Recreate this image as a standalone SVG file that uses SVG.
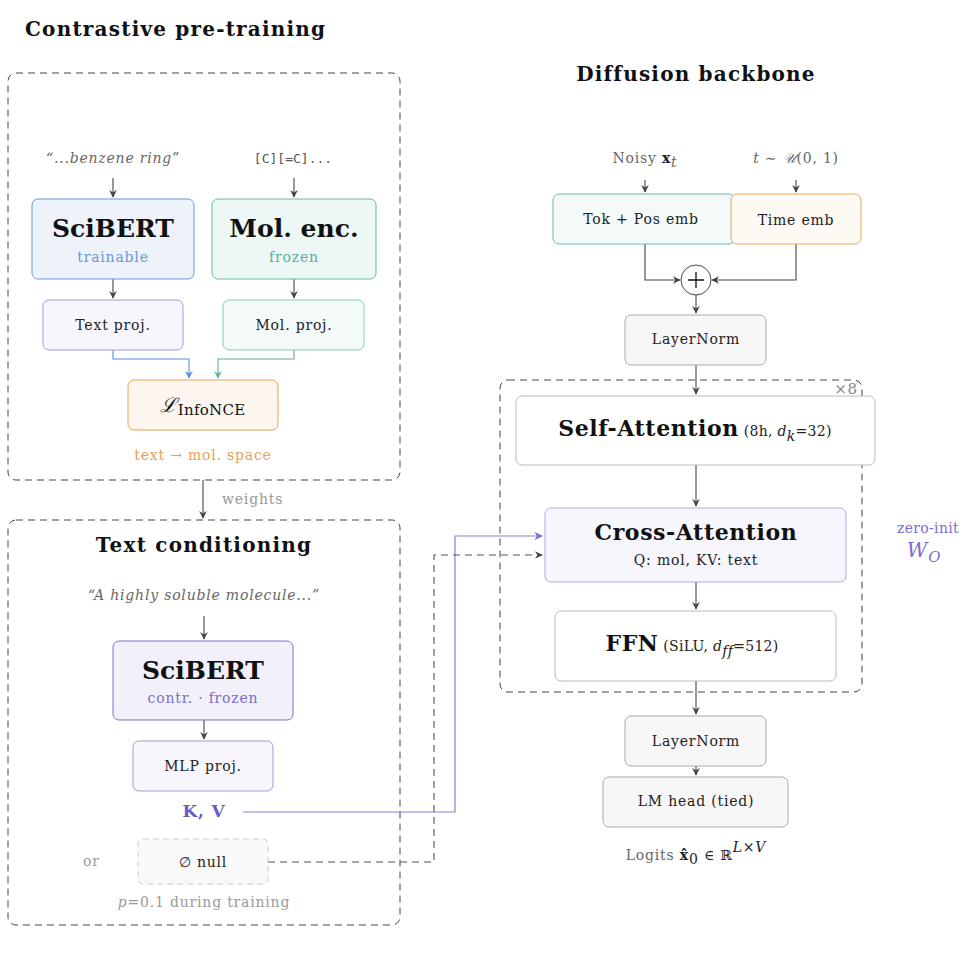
<svg xmlns="http://www.w3.org/2000/svg" width="980" height="958" viewBox="0 0 980 958">
<defs>
<marker id="ah" viewBox="0 0 10 10" refX="9" refY="5" markerWidth="7" markerHeight="7" orient="auto-start-reverse"><path d="M0,0 L10,5 L0,10 L3,5 z" fill="#444"/></marker>
<marker id="ahb" viewBox="0 0 10 10" refX="9" refY="5" markerWidth="7" markerHeight="7" orient="auto"><path d="M0,0 L10,5 L0,10 L3,5 z" fill="#5a8fdc"/></marker>
<marker id="aht" viewBox="0 0 10 10" refX="9" refY="5" markerWidth="7" markerHeight="7" orient="auto"><path d="M0,0 L10,5 L0,10 L3,5 z" fill="#5bb0a0"/></marker>
<marker id="ahp" viewBox="0 0 10 10" refX="9" refY="5" markerWidth="7" markerHeight="7" orient="auto"><path d="M0,0 L10,5 L0,10 L3,5 z" fill="#7b6ccc"/></marker>
</defs>
<style>
text{font-family:"DejaVu Serif","Liberation Serif",serif;fill:#222;letter-spacing:0.8px}
.t{font-size:20px;font-weight:bold;fill:#111;letter-spacing:1.2px}
.g{fill:#666;font-size:14px}
.lg{fill:#999;font-size:14px}
.b{font-size:14px;text-anchor:middle}
.big{font-size:25px;font-weight:bold;text-anchor:middle;fill:#111;letter-spacing:0}
.grp{fill:none;stroke:#444;stroke-dasharray:7 5;stroke-width:1}
.c{fill:none;stroke:#444;stroke-width:1.1}
</style>
<rect width="980" height="958" fill="#fff"/>
<text class="t" x="25" y="36">Contrastive pre-training</text>
<text class="t" x="696" y="81" text-anchor="middle">Diffusion backbone</text>
<rect class="grp" x="8" y="73" width="392" height="407" rx="8"/>
<rect class="grp" x="8" y="520" width="392" height="405" rx="8"/>
<rect class="grp" x="500" y="380" width="362" height="312" rx="8"/>
<text x="846" y="394" font-size="15" text-anchor="middle" style="fill:#888">×8</text>

<g id="labels">
<text class="g" x="113" y="163" text-anchor="middle" font-style="italic">“...benzene ring”</text>
<text x="293" y="163" text-anchor="middle" style="font-family:'DejaVu Sans Mono',monospace;font-size:13px;fill:#555;letter-spacing:0">[C][=C]...</text>
<text class="g" x="645" y="163" text-anchor="middle">Noisy <tspan font-weight="bold" fill="#222">x</tspan><tspan font-style="italic" dy="4">t</tspan></text>
<text class="g" x="796" y="163" text-anchor="middle"><tspan font-style="italic">t</tspan> ∼ <tspan font-style="italic">𝒰</tspan>(0, 1)</text>
<text x="203" y="460" text-anchor="middle" style="fill:#e8a25a;font-size:14px">text → mol. space</text>
<text class="lg" x="222" y="504">weights</text>
<text class="t" x="204" y="552" text-anchor="middle">Text conditioning</text>
<text class="g" x="204" y="600" text-anchor="middle" font-style="italic">“A highly soluble molecule...”</text>
<text x="204" y="817" text-anchor="middle" style="fill:#6a5cc4;font-size:17px;font-weight:bold">K, V</text>
<text class="lg" x="83" y="866">or</text>
<text class="lg" x="204" y="907" text-anchor="middle"><tspan font-style="italic">p</tspan>=0.1 during training</text>
<text x="928" y="533" text-anchor="middle" style="fill:#7b6ccc;font-size:14px;letter-spacing:0.3px">zero-init</text>
<text x="924" y="557" text-anchor="middle" style="fill:#7b6ccc;font-size:20px;font-style:italic">W<tspan font-size="15" dy="5">O</tspan></text>
<text class="g" x="696" y="860" text-anchor="middle">Logits <tspan font-weight="bold" fill="#222">x̂</tspan><tspan dy="4" fill="#222">0</tspan><tspan dy="-4" fill="#222"> ∈ ℝ</tspan><tspan dy="-8" font-style="italic" fill="#222">L×V</tspan></text>
</g>

<g id="connectors">
<path class="c" d="M113,178V197" marker-end="url(#ah)"/>
<path class="c" d="M294,178V197" marker-end="url(#ah)"/>
<path class="c" d="M113,279V298" marker-end="url(#ah)"/>
<path class="c" d="M294,279V298" marker-end="url(#ah)"/>
<path d="M113,350V359H189V378" fill="none" stroke="#5a8fdc" stroke-width="1.1" marker-end="url(#ahb)"/>
<path d="M294,350V359H218V378" fill="none" stroke="#5bb0a0" stroke-width="1.1" marker-end="url(#aht)"/>
<path class="c" d="M203,480V518" marker-end="url(#ah)"/>
<path class="c" d="M204,616V639" marker-end="url(#ah)"/>
<path class="c" d="M204,720V739" marker-end="url(#ah)"/>
<path d="M243,812H455V536H542" fill="none" stroke="#8a7fd4" stroke-width="1.2" marker-end="url(#ahp)"/>
<path d="M268,862H434V555H542" fill="none" stroke="#555" stroke-width="1.1" stroke-dasharray="7 5" marker-end="url(#ah)"/>
<path class="c" d="M645,180V192" marker-end="url(#ah)"/>
<path class="c" d="M796,180V192" marker-end="url(#ah)"/>
<path class="c" d="M645,244V280H680" marker-end="url(#ah)"/>
<path class="c" d="M796,244V280H712" marker-end="url(#ah)"/>
<path class="c" d="M696,295V313" marker-end="url(#ah)"/>
<path class="c" d="M696,365V394" marker-end="url(#ah)"/>
<path class="c" d="M696,465V506" marker-end="url(#ah)"/>
<path class="c" d="M696,582V609" marker-end="url(#ah)"/>
<path class="c" d="M696,681V714" marker-end="url(#ah)"/>
<path class="c" d="M696,766V775" marker-end="url(#ah)"/>
<path class="c" d="M696,816V826" marker-end="url(#ah)"/>
</g>

<g id="scibert1"><rect x="32" y="199" width="162" height="80" rx="6" fill="#eef3fb" stroke="#6a97dc"/>
<text class="big" x="113" y="237">SciBERT</text><text x="113" y="262" text-anchor="middle" style="fill:#6a97dc;font-size:14px">trainable</text></g>
<g id="molenc"><rect x="212" y="199" width="164" height="80" rx="6" fill="#edf7f5" stroke="#6bb8a8"/>
<text class="big" x="294" y="237">Mol. enc.</text><text x="294" y="262" text-anchor="middle" style="fill:#5bb0a0;font-size:14px">frozen</text></g>
<g id="textproj"><rect x="43" y="300" width="140" height="50" rx="6" fill="#f7f6fc" stroke="#a59bd9"/><text class="b" x="113" y="330">Text proj.</text></g>
<g id="molproj"><rect x="223" y="300" width="141" height="50" rx="6" fill="#f4f9f9" stroke="#8ccabd"/><text class="b" x="294" y="330">Mol. proj.</text></g>
<g id="infonce"><rect x="128" y="380" width="150" height="50" rx="6" fill="#fcf6ef" stroke="#e8a25a"/>
<text x="203" y="412" text-anchor="middle" style="font-size:20px;fill:#111;letter-spacing:0.3px"><tspan font-style="italic">ℒ</tspan><tspan font-size="15" dy="3">InfoNCE</tspan></text></g>

<g id="scibert2"><rect x="113" y="641" width="180" height="79" rx="6" fill="#f2f0fb" stroke="#8073d0"/>
<text class="big" x="203" y="679">SciBERT</text><text x="203" y="703" text-anchor="middle" style="fill:#7b6ccc;font-size:14px">contr. · frozen</text></g>
<g id="mlpproj"><rect x="133" y="741" width="140" height="50" rx="6" fill="#f7f6fc" stroke="#a59bd9"/><text class="b" x="203" y="771">MLP proj.</text></g>
<g id="null"><rect x="138" y="839" width="130" height="45" rx="5" fill="#f9f9f9" stroke="#ccc" stroke-dasharray="6 4"/><text class="b" x="203" y="867">∅ null</text></g>

<g id="tokpos"><rect x="553" y="194" width="182" height="50" rx="6" fill="#f4f9f9" stroke="#6bb8a8"/><text class="b" x="641" y="224">Tok + Pos emb</text></g>
<g id="timeemb"><rect x="731" y="194" width="130" height="50" rx="6" fill="#fdf9f3" stroke="#eba860"/><text class="b" x="796" y="225">Time emb</text></g>
<g id="plus"><circle cx="696" cy="280" r="15" fill="#fff" stroke="#444"/><path d="M688,280H704M696,272V288" stroke="#111" stroke-width="1.3"/></g>
<g id="ln1"><rect x="625" y="315" width="141" height="50" rx="6" fill="#f7f7f7" stroke="#aaa"/><text class="b" x="696" y="344">LayerNorm</text></g>
<g id="selfattn"><rect x="516" y="396" width="359" height="69" rx="6" fill="#fff" stroke="#bbb"/>
<text x="695" y="436" text-anchor="middle" style="font-size:14px;fill:#222;letter-spacing:0.3px"><tspan font-size="22" font-weight="bold" fill="#111" letter-spacing="0.6">Self-Attention</tspan> (8h, <tspan font-style="italic">d</tspan><tspan font-style="italic" dy="5">k</tspan><tspan dy="-5">=32)</tspan></text></g>
<g id="crossattn"><rect x="545" y="508" width="301" height="74" rx="6" fill="#f7f6fd" stroke="#b3a9e3"/>
<text x="696" y="540" text-anchor="middle" style="font-size:22px;font-weight:bold;fill:#111;letter-spacing:0.6px">Cross-Attention</text>
<text class="b" x="696" y="565">Q: mol, KV: text</text></g>
<g id="ffn"><rect x="555" y="611" width="281" height="70" rx="6" fill="#fff" stroke="#bbb"/>
<text x="692" y="651" text-anchor="middle" style="font-size:14px;fill:#222;letter-spacing:0.3px"><tspan font-size="22" font-weight="bold" fill="#111" letter-spacing="0.6">FFN</tspan> (SiLU, <tspan font-style="italic">d</tspan><tspan font-style="italic" dy="5">ff</tspan><tspan dy="-5">=512)</tspan></text></g>
<g id="ln2"><rect x="625" y="716" width="141" height="50" rx="6" fill="#f7f7f7" stroke="#aaa"/><text class="b" x="696" y="746">LayerNorm</text></g>
<g id="lmhead"><rect x="603" y="777" width="185" height="50" rx="6" fill="#f7f7f7" stroke="#aaa"/><text class="b" x="696" y="806">LM head (tied)</text></g>
</svg>
